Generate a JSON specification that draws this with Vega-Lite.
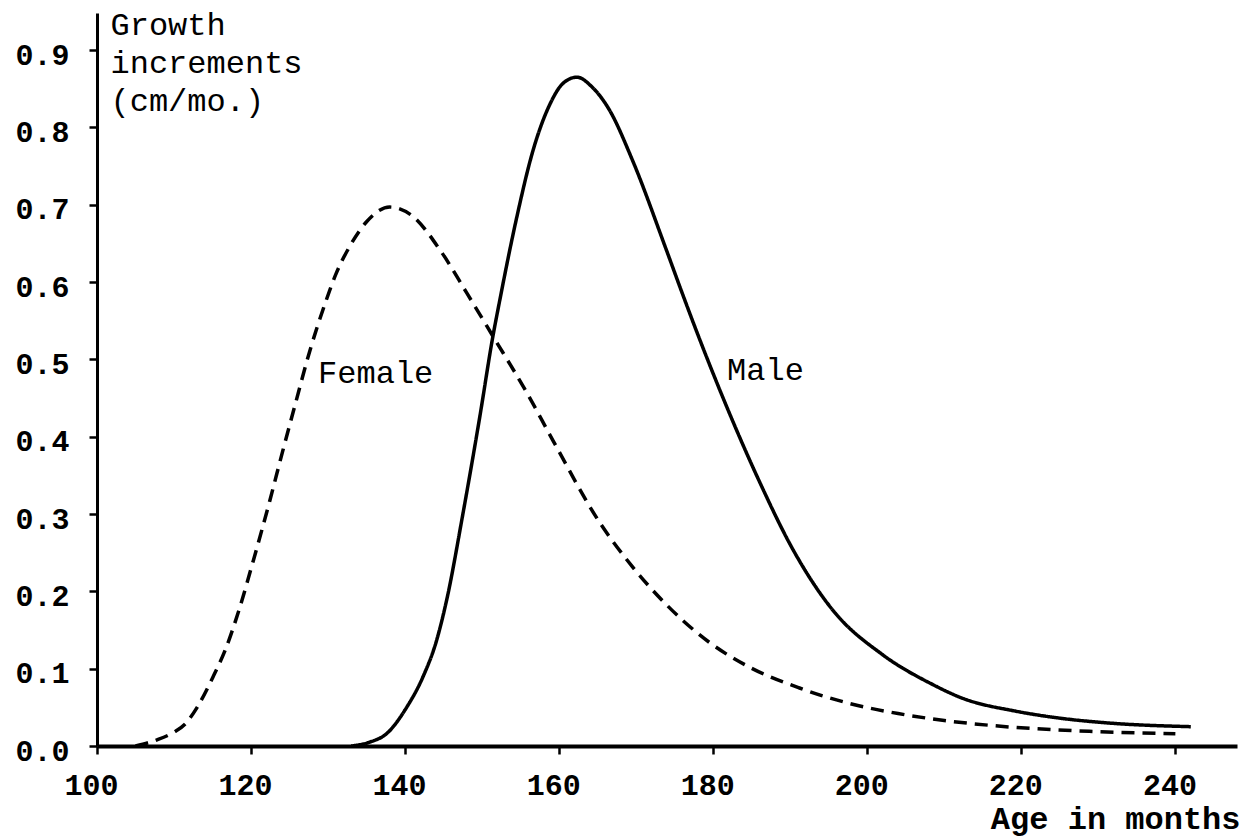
{
  "$schema": "https://vega.github.io/schema/vega-lite/v6.json",
  "width": 1140,
  "height": 733,
  "autosize": {"type": "none"},
  "padding": {"left": 97, "top": 13, "right": 23, "bottom": 92},
  "background": "white",
  "config": {
    "view": {"stroke": null},
    "font": "Liberation Mono",
    "axis": {"grid": false, "domainColor": "black", "tickColor": "black", "labelColor": "black", "titleColor": "black", "labelFont": "Liberation Mono", "titleFont": "Liberation Mono"}
  },
  "datasets": {
    "curves": [
      {"sex": "Female", "age": 105, "value": 0.0},
      {"sex": "Female", "age": 107.8, "value": 0.008},
      {"sex": "Female", "age": 110, "value": 0.018},
      {"sex": "Female", "age": 111.5, "value": 0.029},
      {"sex": "Female", "age": 113, "value": 0.05},
      {"sex": "Female", "age": 115, "value": 0.088},
      {"sex": "Female", "age": 116.8, "value": 0.128},
      {"sex": "Female", "age": 118.5, "value": 0.178},
      {"sex": "Female", "age": 120.3, "value": 0.24},
      {"sex": "Female", "age": 122.4, "value": 0.316},
      {"sex": "Female", "age": 124.1, "value": 0.381},
      {"sex": "Female", "age": 125.9, "value": 0.448},
      {"sex": "Female", "age": 127.6, "value": 0.51},
      {"sex": "Female", "age": 129.6, "value": 0.572},
      {"sex": "Female", "age": 131, "value": 0.61},
      {"sex": "Female", "age": 132.8, "value": 0.646},
      {"sex": "Female", "age": 135, "value": 0.678},
      {"sex": "Female", "age": 138, "value": 0.697},
      {"sex": "Female", "age": 141, "value": 0.685},
      {"sex": "Female", "age": 144.5, "value": 0.642},
      {"sex": "Female", "age": 148, "value": 0.586},
      {"sex": "Female", "age": 151.4, "value": 0.53},
      {"sex": "Female", "age": 155.8, "value": 0.457},
      {"sex": "Female", "age": 159.2, "value": 0.395},
      {"sex": "Female", "age": 165.2, "value": 0.29},
      {"sex": "Female", "age": 169.5, "value": 0.232},
      {"sex": "Female", "age": 173.9, "value": 0.183},
      {"sex": "Female", "age": 179.5, "value": 0.134},
      {"sex": "Female", "age": 184.7, "value": 0.102},
      {"sex": "Female", "age": 191.2, "value": 0.075},
      {"sex": "Female", "age": 197.7, "value": 0.055},
      {"sex": "Female", "age": 204, "value": 0.042},
      {"sex": "Female", "age": 210, "value": 0.033},
      {"sex": "Female", "age": 218, "value": 0.025},
      {"sex": "Female", "age": 228.8, "value": 0.019},
      {"sex": "Female", "age": 240, "value": 0.016},
      {"sex": "Male", "age": 133, "value": 0.0},
      {"sex": "Male", "age": 135.4, "value": 0.005},
      {"sex": "Male", "age": 137.6, "value": 0.016},
      {"sex": "Male", "age": 140.2, "value": 0.05},
      {"sex": "Male", "age": 142.3, "value": 0.089},
      {"sex": "Male", "age": 144.1, "value": 0.137},
      {"sex": "Male", "age": 145.4, "value": 0.189},
      {"sex": "Male", "age": 147.5, "value": 0.3},
      {"sex": "Male", "age": 149.7, "value": 0.426},
      {"sex": "Male", "age": 151.4, "value": 0.53},
      {"sex": "Male", "age": 152.3, "value": 0.577},
      {"sex": "Male", "age": 154.5, "value": 0.684},
      {"sex": "Male", "age": 156.6, "value": 0.77},
      {"sex": "Male", "age": 158.8, "value": 0.83},
      {"sex": "Male", "age": 160.5, "value": 0.857},
      {"sex": "Male", "age": 162.3, "value": 0.865},
      {"sex": "Male", "age": 164.3, "value": 0.852},
      {"sex": "Male", "age": 166.5, "value": 0.823},
      {"sex": "Male", "age": 169.5, "value": 0.758},
      {"sex": "Male", "age": 173.9, "value": 0.642},
      {"sex": "Male", "age": 176, "value": 0.585},
      {"sex": "Male", "age": 178.2, "value": 0.527},
      {"sex": "Male", "age": 181.7, "value": 0.44},
      {"sex": "Male", "age": 186, "value": 0.342},
      {"sex": "Male", "age": 190.3, "value": 0.255},
      {"sex": "Male", "age": 195.5, "value": 0.176},
      {"sex": "Male", "age": 202, "value": 0.118},
      {"sex": "Male", "age": 208.4, "value": 0.08},
      {"sex": "Male", "age": 212.3, "value": 0.062},
      {"sex": "Male", "age": 219.3, "value": 0.045},
      {"sex": "Male", "age": 225, "value": 0.036},
      {"sex": "Male", "age": 231, "value": 0.03},
      {"sex": "Male", "age": 242, "value": 0.025}
    ],
    "labels": [
      {"label": "Female", "age": 128.7, "value": 0.483},
      {"label": "Male", "age": 181.8, "value": 0.486}
    ]
  },
  "layer": [
    {
      "data": {"name": "curves"},
      "mark": {"type": "line", "interpolate": "monotone", "color": "black", "strokeWidth": 3.5},
      "encoding": {
        "x": {
          "field": "age", "type": "quantitative",
          "scale": {"domain": [100, 248], "nice": false, "zero": false},
          "axis": {
            "values": [100, 120, 140, 160, 180, 200, 220, 240],
            "domainWidth": 4, "tickWidth": 2.5, "tickSize": 8,
            "labelFontSize": 30, "labelFontWeight": "bold", "labelPadding": 16,
            "labelOffset": -6, "labelBaseline": "top", "labelFlush": false,
            "title": "Age in months", "titleFontSize": 32, "titleFontWeight": "bold",
            "titleAnchor": null, "titleX": 1143, "titleY": 82, "titleAlign": "right", "titleBaseline": "alphabetic"
          }
        },
        "y": {
          "field": "value", "type": "quantitative",
          "scale": {"domain": [0, 0.948], "nice": false},
          "axis": {
            "values": [0, 0.1, 0.2, 0.3, 0.4, 0.5, 0.6, 0.7, 0.8, 0.9],
            "format": ".1f",
            "domainWidth": 3, "tickWidth": 2.5, "tickSize": 8,
            "labelFontSize": 30, "labelFontWeight": "bold", "labelPadding": 20,
            "labelOffset": 5, "labelFlush": false,
            "title": ["Growth", "increments", "(cm/mo.)"], "titleFontSize": 32, "titleFontWeight": "normal",
            "titleAngle": 0, "titleAnchor": null, "titleX": 13, "titleY": -4, "titleAlign": "left",
            "titleBaseline": "top", "titleLineHeight": 38
          }
        },
        "strokeDash": {
          "field": "sex", "type": "nominal",
          "scale": {"domain": ["Female", "Male"], "range": [[13, 8], [1, 0]]},
          "legend": null
        }
      }
    },
    {
      "data": {"name": "labels"},
      "mark": {"type": "text", "align": "left", "baseline": "middle", "font": "Liberation Mono", "fontSize": 32, "color": "black"},
      "encoding": {
        "x": {"field": "age", "type": "quantitative"},
        "y": {"field": "value", "type": "quantitative"},
        "text": {"field": "label"}
      }
    }
  ]
}
